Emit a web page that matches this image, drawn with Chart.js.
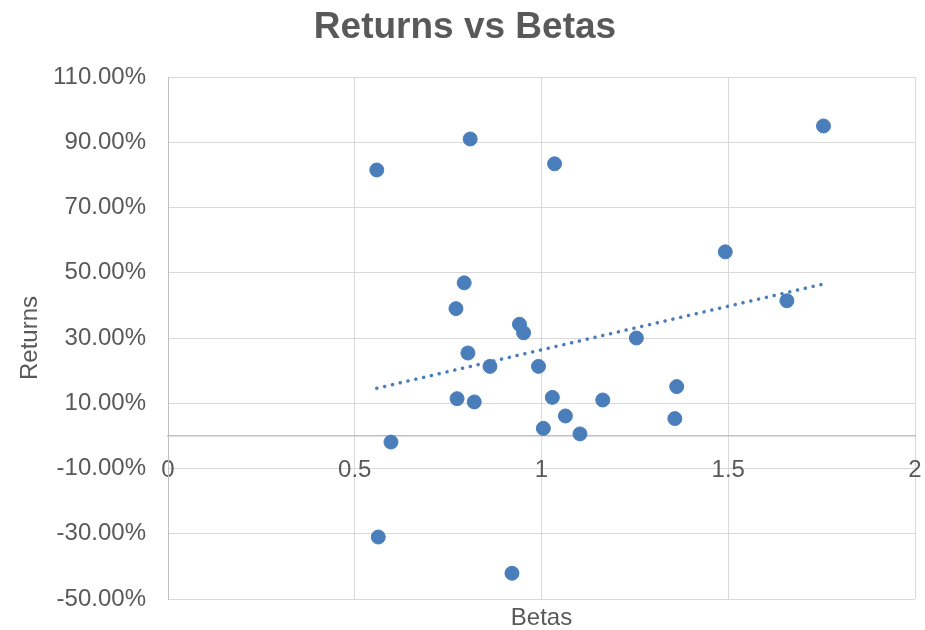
<!DOCTYPE html>
<html>
<head>
<meta charset="utf-8">
<script src="https://cdn.jsdelivr.net/npm/chart.js@4/dist/chart.umd.min.js"></script>
<style>
html,body{margin:0;padding:0;background:#fff;}
#wrap{width:925px;height:630px;}
</style>
</head>
<body>
<div id="wrap"><canvas id="c" width="925" height="630"></canvas></div>
<script>
const chartTitle = "Returns vs Betas";
const xTitle = "Betas";
const yTitle = "Returns";
const betas = [0.559, 0.809, 1.035, 0.793, 0.771, 0.941, 0.952, 0.803, 0.862, 0.992, 1.254, 0.774, 0.820, 1.029, 1.164, 1.064, 1.005, 1.103, 0.597, 0.563, 0.921, 1.755, 1.492, 1.657, 1.362, 1.357];
const returns = [81.5, 91.0, 83.4, 46.9, 39.0, 34.2, 31.6, 25.4, 21.3, 21.3, 30.0, 11.4, 10.4, 11.8, 11.0, 6.1, 2.3, 0.6, -1.9, -31.0, -42.1, 95.0, 56.4, 41.4, 15.1, 5.3];
const xTicks = [0, 0.5, 1, 1.5, 2];
const xTickLabels = ["0", "0.5", "1", "1.5", "2"];
const yTicks = [-50, -30, -10, 10, 30, 50, 70, 90, 110];

const points = betas.map((b, i) => ({x: b, y: returns[i]}));

// linear trendline (least squares) computed from the data
const n = betas.length;
const mx = betas.reduce((a, b) => a + b, 0) / n;
const my = returns.reduce((a, b) => a + b, 0) / n;
let sxy = 0, sxx = 0;
for (let i = 0; i < n; i++) { sxy += (betas[i] - mx) * (returns[i] - my); sxx += (betas[i] - mx) ** 2; }
const slope = sxy / sxx, intercept = my - slope * mx;
const xMin = Math.min(...betas), xMax = Math.max(...betas);
const trend = [{x: xMin, y: intercept + slope * xMin}, {x: xMax, y: intercept + slope * xMax}];

const blue = '#4a7ebb';
const textColor = '#595959';
const font = 'Liberation Sans, Arial, sans-serif';

new Chart(document.getElementById('c'), {
  type: 'scatter',
  data: {
    datasets: [
      {
        type: 'line',
        data: trend,
        borderColor: blue,
        borderWidth: 3.5,
        borderDash: [0.1, 7.9],
        borderCapStyle: 'round',
        pointRadius: 0,
        fill: false
      },
      {
        data: points,
        backgroundColor: blue,
        borderColor: blue,
        borderWidth: 1,
        pointRadius: 7,
        pointHoverRadius: 7
      }
    ]
  },
  options: {
    responsive: false,
    animation: false,
    devicePixelRatio: 1,
    layout: {padding: {left: 15, right: 10, top: 0, bottom: 0}},
    plugins: {
      legend: {display: false},
      tooltip: {enabled: false},
      title: {
        display: true,
        text: chartTitle,
        color: textColor,
        font: {family: font, size: 37, weight: 'bold', lineHeight: 1.2},
        padding: {top: 6, bottom: 26.6}
      },
      subtitle: {
        display: true,
        position: 'bottom',
        fullSize: false,
        text: xTitle,
        color: textColor,
        font: {family: font, size: 24, lineHeight: 1},
        padding: {top: 7, bottom: 0}
      }
    },
    scales: {
      x: {
        type: 'linear',
        position: {y: 0},
        min: 0, max: 2,
        afterBuildTicks: s => { s.ticks = xTicks.map(v => ({value: v})); },
        afterFit: s => { s.paddingLeft = 0; s.paddingRight = 0; s.paddingTop = 0; s.paddingBottom = 0; },
        ticks: {color: textColor, font: {family: font, size: 24}, padding: 20, maxRotation: 0,
                callback: (v, i) => xTickLabels[i]},
        grid: {color: '#d9d9d9', lineWidth: 1, drawTicks: false},
        border: {color: '#bfbfbf', width: 1.5}
      },
      y: {
        type: 'linear',
        position: 'left',
        min: -50, max: 110,
        afterBuildTicks: s => { s.ticks = yTicks.map(v => ({value: v})); },
        afterFit: s => { s.width = 153; s.paddingTop = 0; s.paddingBottom = 0; },
        ticks: {color: textColor, font: {family: font, size: 24}, padding: 22, callback: v => v.toFixed(2) + '%'},
        grid: {color: '#d9d9d9', lineWidth: 1, drawTicks: false},
        border: {color: '#bfbfbf', width: 1},
        title: {display: true, text: yTitle, color: textColor, font: {family: font, size: 24, lineHeight: 1.2}, padding: {top: 1, bottom: 6}}
      }
    }
  }
});
</script>
</body>
</html>
